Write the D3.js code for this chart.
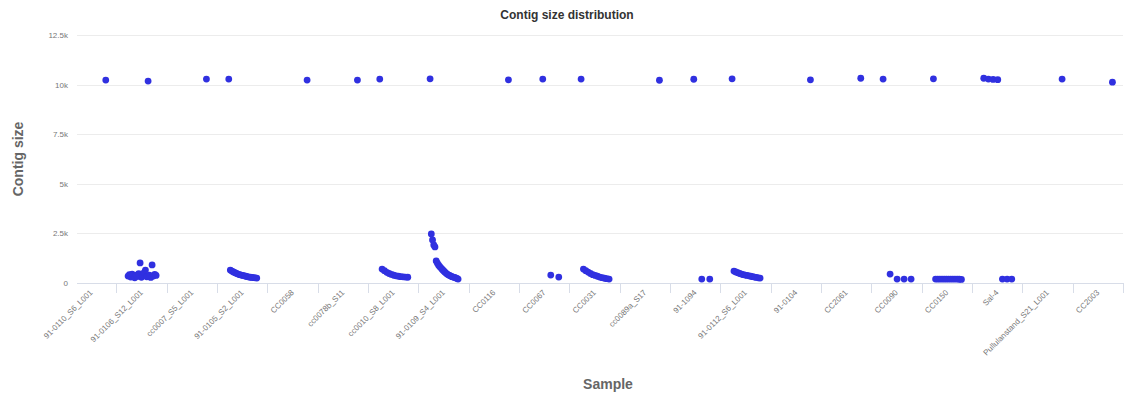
<!DOCTYPE html>
<html>
<head>
<meta charset="utf-8">
<script src="https://cdn.jsdelivr.net/npm/d3@7"></script>
<style>
  html, body { margin: 0; padding: 0; background: #fff; }
  svg { display: block; font-family: "Liberation Sans", Arial, sans-serif; }
</style>
</head>
<body>
<svg id="chart" width="1133" height="394"></svg>
<script>
// ---- data ----
const categories = [
  "91-0110_S6_L001", "91-0106_S12_L001", "cc0007_S5_L001", "91-0105_S2_L001",
  "CC0058", "cc0078b_S11", "cc0010_S8_L001", "91-0109_S4_L001", "CC0116",
  "CC0067", "CC0031", "cc0089a_S17", "91-1094", "91-0112_S6_L001", "91-0104",
  "CC2061", "CC0090", "CC0150", "Sal-4", "Pullulanstand_S21_L001", "CC2003"
];

// contig sizes per sample, in left-to-right display order
const s1  = [10230];
const s2  = [350, 420, 300, 450, 380, 260, 400, 330, 470, 1010, 290, 360, 520, 650, 310, 10180, 400, 280, 910, 350, 430, 380];
const s3  = [10280];
const s4  = [10280, 650, 600, 560, 520, 480, 450, 420, 400, 380, 360, 340, 320, 300, 290, 280, 270, 260, 250];
const s5  = [10230];
const s6  = [10230];
const s7  = [10280, 700, 620, 540, 480, 430, 390, 360, 340, 320, 310, 300, 290];
const s8  = [10290, 2470, 2170, 1920, 1820, 1110, 1000, 900, 820, 750, 680, 620, 560, 500, 450, 410, 380, 350, 320, 300, 280, 260, 230, 200];
const s9  = [10240];
const s10 = [10280, 400, 300];
const s11 = [10280, 700, 620, 550, 480, 420, 380, 340, 300, 270, 240, 220, 200];
const s12 = [10220];
const s13 = [10270, 200, 200];
const s14 = [10290, 600, 560, 520, 480, 450, 420, 400, 380, 360, 340, 320, 300, 280, 260, 250];
const s15 = [10240];
const s16 = [10320];
const s17 = [10280, 450, 200, 200, 200];
const s18 = [10290, 200, 200, 200, 200, 200, 200, 200, 200, 200, 200, 200, 190, 180];
const s19 = [10320, 10280, 10260, 10250, 200, 200, 200];
const s20 = [10280];
const s21 = [10120];
const seriesValues = [s1, s2, s3, s4, s5, s6, s7, s8, s9, s10, s11, s12, s13, s14, s15, s16, s17, s18, s19, s20, s21];

const yTicks = [0, 2500, 5000, 7500, 10000, 12500];
const yTickLabels = ["0", "2.5k", "5k", "7.5k", "10k", "12.5k"];

// ---- layout ----
const svg = d3.select("#chart");
const plotLeft = 77, plotRight = 1123, plotTop = 35, plotBottom = 283;

const x = d3.scaleBand().domain(categories).range([66, 1123]).paddingInner(0).paddingOuter(0);
const y = d3.scaleLinear().domain([0, 12500]).range([plotBottom, plotTop]);
const bw = x.bandwidth();

// gridlines
svg.append("g").selectAll("line").data(yTicks.filter(d => d > 0)).join("line")
  .attr("x1", plotLeft).attr("x2", plotRight)
  .attr("y1", d => Math.round(y(d)) + 0.5).attr("y2", d => Math.round(y(d)) + 0.5)
  .attr("stroke", "#ececec").attr("stroke-width", 1);

// y axis labels
const yAxis = d3.axisLeft(y).tickValues(yTicks).tickSize(0).tickPadding(0)
  .tickFormat((d, i) => yTickLabels[i]);
const gy = svg.append("g").attr("transform", `translate(68,0)`).call(yAxis);
gy.select(".domain").remove();
gy.selectAll("text").attr("fill", "#777").attr("font-size", "8px")
  .attr("font-family", "Liberation Sans, Arial, sans-serif");

// x axis baseline
svg.append("line").attr("x1", plotLeft).attr("x2", plotRight)
  .attr("y1", plotBottom + 0.5).attr("y2", plotBottom + 0.5)
  .attr("stroke", "#d8dde8").attr("stroke-width", 1);

// ticks at band boundaries
const boundaries = categories.slice(1).map(c => x(c)).concat([x(categories[categories.length - 1]) + bw]);
svg.append("g").selectAll("line").data(boundaries).join("line")
  .attr("x1", d => Math.round(d) + 0.5).attr("x2", d => Math.round(d) + 0.5)
  .attr("y1", plotBottom).attr("y2", plotBottom + 10)
  .attr("stroke", "#d8dde8").attr("stroke-width", 1);

// x labels
const xAxis = d3.axisBottom(x).tickSize(0).tickPadding(0);
const gx = svg.append("g").attr("transform", `translate(0,${plotBottom + 8})`).call(xAxis);
gx.select(".domain").remove();
gx.selectAll("text")
  .attr("fill", "#777").attr("font-size", "8px")
  .attr("font-family", "Liberation Sans, Arial, sans-serif")
  .attr("text-anchor", "end")
  .attr("dy", "0.35em")
  .attr("transform", "rotate(-45)");

// points
const points = [];
seriesValues.forEach((vals, ci) => {
  const n = vals.length;
  const step = n > 1 ? Math.min(8, 28 / (n - 1)) : 0;
  const right = x(categories[ci]) + bw * 0.79;
  vals.forEach((v, i) => {
    points.push({ cx: right - (n - 1 - i) * step, v });
  });
});
svg.append("g").selectAll("circle").data(points).join("circle")
  .attr("cx", d => d.cx).attr("cy", d => y(d.v)).attr("r", 3.4)
  .attr("fill", "#3030e0");

// titles
svg.append("text").attr("x", 567).attr("y", 19).attr("text-anchor", "middle")
  .attr("font-size", "12px").attr("font-weight", "bold").attr("fill", "#333")
  .text("Contig size distribution");

svg.append("text").attr("transform", "translate(23,159) rotate(-90)")
  .attr("text-anchor", "middle").attr("font-size", "14px").attr("font-weight", "bold")
  .attr("fill", "#666").text("Contig size");

svg.append("text").attr("x", 608).attr("y", 389).attr("text-anchor", "middle")
  .attr("font-size", "14px").attr("font-weight", "bold").attr("fill", "#666")
  .text("Sample");
</script>
</body>
</html>
